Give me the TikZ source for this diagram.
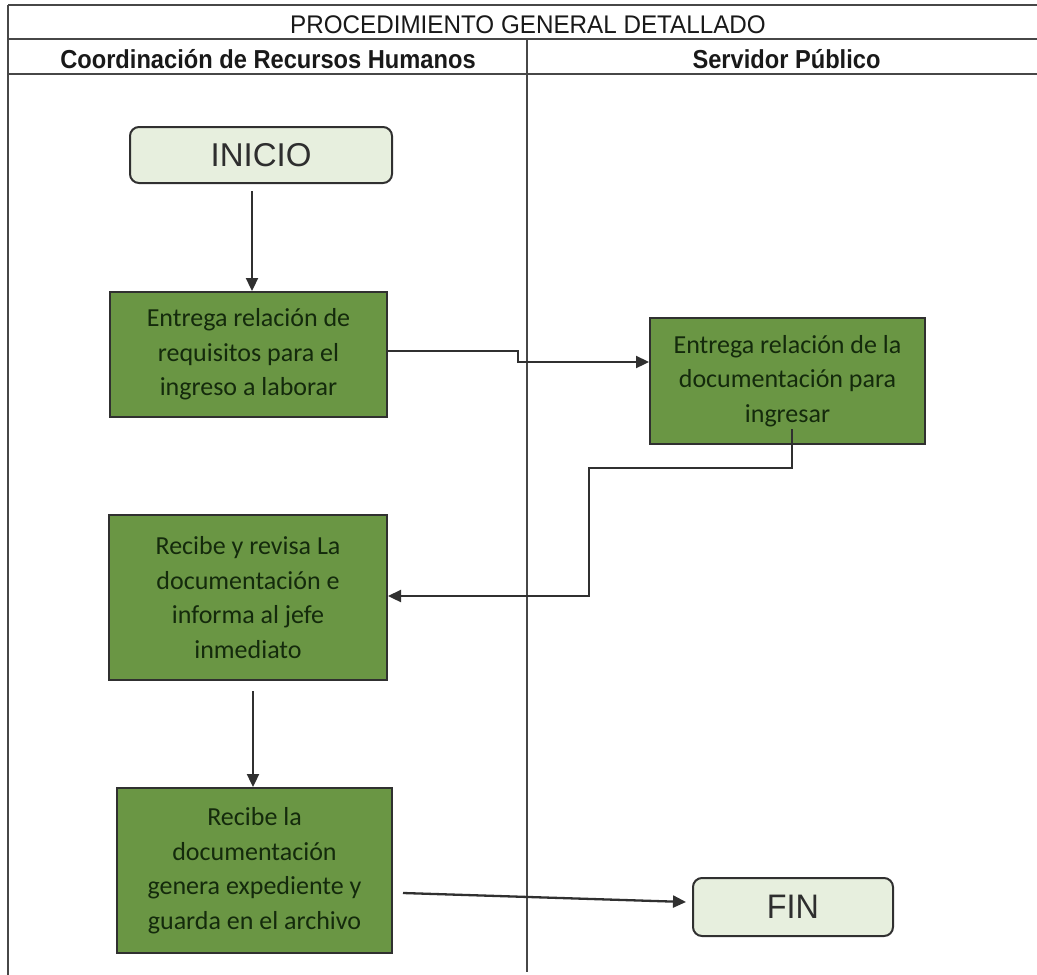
\documentclass[tikz,border=0pt]{standalone}
\usepackage{fontspec}
\setmainfont{Carlito}
\newfontfamily\hdfont[FakeStretch=0.95]{Liberation Sans}
\newfontfamily\hdbfont[FakeStretch=0.91]{Liberation Sans Bold}
\newfontfamily\termfont{Liberation Sans}
\newfontfamily\finfont[FakeStretch=0.95]{Liberation Sans}
\usetikzlibrary{arrows.meta}
\definecolor{boxgreen}{RGB}{106,150,68}
\definecolor{boxtext}{RGB}{20,42,12}
\definecolor{termfill}{RGB}{231,239,222}
\definecolor{linegray}{RGB}{48,48,48}
\begin{document}
\begin{tikzpicture}[x=1pt,y=-1pt,
  stepbox/.style={draw=linegray, line width=2pt, fill=boxgreen, text=boxtext,
    align=center, inner sep=0pt, font=\fontsize{26}{34.5}\selectfont},
  term/.style={draw=linegray, line width=2pt, fill=termfill, rounded corners=9pt,
    inner sep=0pt, text=black!82},
  conn/.style={draw=linegray, line width=2.3pt, -{Triangle[length=13pt,width=12pt]}},
  gridline/.style={draw=black!72, line width=1.5pt},
  head/.style={anchor=base, inner sep=0pt, text=black!90}]
\useasboundingbox (0,0) rectangle (1037,975);
\fill[white] (0,0) rectangle (1037,975);
% table frame
\draw[gridline] (8,5) -- (1037,5);
\draw[gridline] (8,39) -- (1037,39);
\draw[gridline] (8,74) -- (1037,74);
\draw[gridline] (8,5) -- (8,975);
\draw[gridline] (527,39) -- (527,972);
\node[head] (title) at (528,33) {\hdfont\fontsize{25.5}{30}\selectfont PROCEDIMIENTO GENERAL DETALLADO};
\node[head] (lane1) at (268,68) {\hdbfont\fontsize{26}{30}\selectfont Coordinación de Recursos Humanos};
\node[head] (lane2) at (786.5,68) {\hdbfont\fontsize{26}{30}\selectfont Servidor Público};
% nodes
\node[term, minimum width=262pt, minimum height=56pt, font=\termfont\fontsize{33}{36}\selectfont] (inicio) at (261,155) {INICIO};
\node[stepbox, minimum width=277pt, minimum height=125pt] (b1) at (248.5,354.5)
  {Entrega relación de\\requisitos para el\\ingreso a laborar};
\node[stepbox, minimum width=275pt, minimum height=126pt] (b2) at (787.5,381)
  {Entrega relación de la\\documentación para\\ingresar};
\node[stepbox, minimum width=278pt, minimum height=165pt] (b3) at (248,597.5)
  {Recibe y revisa La\\documentación e\\informa al jefe\\inmediato};
\node[stepbox, minimum width=275pt, minimum height=165pt] (b4) at (254.5,870.5)
  {Recibe la\\documentación\\genera expediente y\\guarda en el archivo};
\node[term, minimum width=200pt, minimum height=58pt, font=\finfont\fontsize{34}{38}\selectfont] (fin) at (793,907) {FIN};
% connectors
\coordinate (j1) at (518,351);
\coordinate (j2) at (518,362);
\coordinate (k1) at (792,468);
\coordinate (k2) at (589,468);
\coordinate (k3) at (589,596);
\draw[conn] ([shift={(-9pt,-7pt)}]inicio.south) -- ([xshift=3.5pt]b1.north);
\draw[conn] ([yshift=3.5pt]b1.east) -- (j1) -- (j2) -- ([yshift=19pt]b2.west);
\draw[conn] ([shift={(4.5pt,16pt)}]b2.south) -- (k1) -- (k2) -- (k3) -- ([yshift=1.5pt]b3.east);
\draw[conn] ([shift={(5pt,-10pt)}]b3.south) -- ([xshift=-1.5pt]b4.north);
\draw[conn] ([shift={(10pt,-22.5pt)}]b4.east) -- ([shift={(-6pt,5pt)}]fin.west);
\end{tikzpicture}
\end{document}
